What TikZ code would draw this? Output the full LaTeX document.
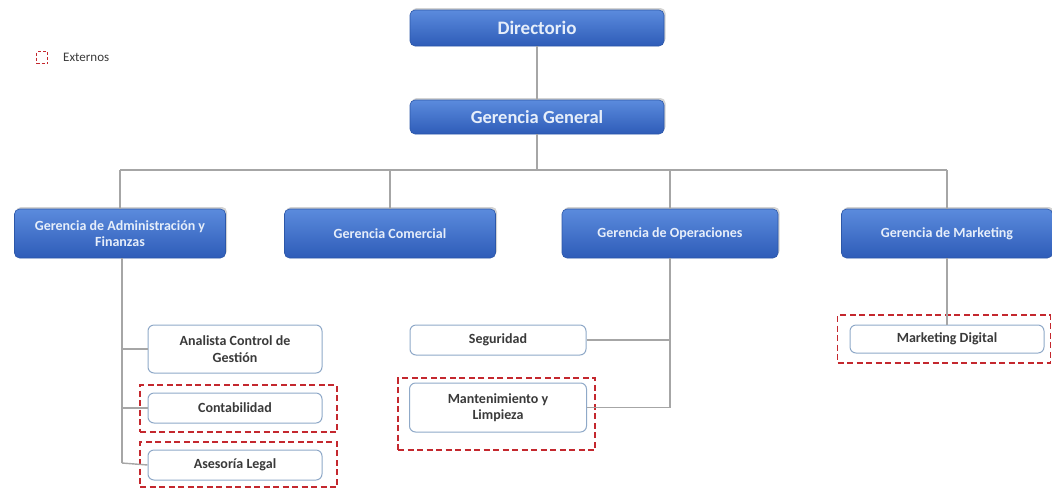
\documentclass[tikz,border=0pt]{standalone}
\usepackage{fontspec}
\setmainfont{Carlito}
\usetikzlibrary{shadows}
\definecolor{btop}{HTML}{5B8BDD}
\definecolor{bbot}{HTML}{2E5CB8}
\definecolor{bdraw}{HTML}{2C57A8}
\definecolor{wtxt}{HTML}{E6EEFA}
\definecolor{lborder}{HTML}{8FA9C8}
\definecolor{conn}{HTML}{A6A6A6}
\definecolor{extred}{HTML}{C4282E}
\definecolor{dtext}{HTML}{3A3A3A}
\tikzset{
  bluebox/.style={rectangle, rounded corners=5pt, top color=btop, bottom color=bbot,
    draw=bdraw, line width=0.6pt, text=wtxt, align=center, inner sep=2pt,
    drop shadow={opacity=0.35, shadow xshift=1.5pt, shadow yshift=2pt}},
  whitebox/.style={rectangle, rounded corners=6pt, fill=white, draw=lborder,
    line width=1pt, text=dtext, align=center, inner sep=2pt, font=\bfseries\fontsize{14}{16.5}\selectfont},
  extframe/.style={draw=extred, line width=1.6pt, dash pattern=on 6pt off 3.5pt},
  conline/.style={draw=conn, line width=1.4pt}
}
\begin{document}
\begin{tikzpicture}[x=1pt,y=-1pt]
\useasboundingbox (0,0) rectangle (1052,491);
% top boxes
\node[bluebox, minimum width=254pt, minimum height=36pt, font=\bfseries\fontsize{19}{22}\selectfont] (dir) at (537,28) {Directorio};
\node[bluebox, minimum width=254pt, minimum height=34pt, font=\bfseries\fontsize{18.5}{22}\selectfont] (gg) at (537,117) {Gerencia General};
% level 2
\tikzset{lvl2/.style={bluebox, minimum width=211pt, minimum height=49pt, font=\bfseries\fontsize{14}{16.5}\selectfont}}
\node[lvl2] (adm) at (120,233.5) {Gerencia de Administración y\\Finanzas};
\node[lvl2] (com) at (390,233.5) {Gerencia Comercial};
\node[lvl2, minimum width=216pt] (ope) at (670,233.5) {Gerencia de Operaciones};
\node[lvl2] (mkt) at (947,233.5) {Gerencia de Marketing};
% bus
\coordinate (bus) at (537,170);
\coordinate (busL) at (120,170);
\coordinate (busR) at (947,170);
% level 3 left
\node[whitebox, minimum width=174pt, minimum height=48pt] (ana) at (235,349) {Analista Control de\\Gestión};
\node[whitebox, minimum width=174pt, minimum height=30pt] (cont) at (235,408) {Contabilidad};
\node[whitebox, minimum width=174pt, minimum height=30pt] (ase) at (235,465) {Asesoría Legal};
% level 3 middle
\node[whitebox, minimum width=176pt, minimum height=30pt] (seg) at (498,340) {Seguridad};
\node[whitebox, minimum width=177pt, minimum height=49pt] (man) at (498,407.5) {Mantenimiento y\\Limpieza};
% level 3 right
\node[whitebox, minimum width=194pt, minimum height=28pt] (mdig) at (947,339) {Marketing Digital};
% external frames
\node[extframe, rectangle, minimum width=197pt, minimum height=47pt] (fcont) at (238.5,408.5) {};
\node[extframe, rectangle, minimum width=197pt, minimum height=45pt] (fase) at (238.5,464.5) {};
\node[extframe, rectangle, minimum width=197pt, minimum height=72pt] (fman) at (496.5,414) {};
\node[extframe, rectangle, minimum width=213pt, minimum height=48pt] (fmdig) at (944,339) {};
% legend
\node[extframe, rectangle, line width=1.3pt, dash pattern=on 3pt off 2pt, minimum width=11pt, minimum height=12pt, inner sep=0pt] (leg) at (42,57.5) {};
\node[anchor=west, text=dtext, font=\fontsize{13}{15}\selectfont, inner sep=0pt] (legt) at (63,57.5) {Externos};
% connectors
\coordinate (admB) at (122,463);
\coordinate (opeB) at (670,407.5);
\draw[conline] (dir) -- (gg);
\draw[conline] (gg.south) -- (bus);
\draw[conline] (busL) -- (busR);
\draw[conline] (busL) -- (adm.north);
\draw[conline] (390,170) -- (com.north);
\draw[conline] (670,170) -- (ope.north);
\draw[conline] (busR) -- (mkt.north);
\draw[conline] (adm.south -| admB) -- (admB);
\draw[conline] (ana.west -| admB) -- (ana.west);
\draw[conline] (cont.west -| admB) -- (cont.west);
\draw[conline] (admB) -- (ase.west);
\draw[conline] (ope.south) -- (opeB);
\draw[conline] (seg.east) -- (seg.east -| opeB);
\draw[conline] (man.east) -- (opeB);
\draw[conline] (mkt.south) -- (mdig.north);
\end{tikzpicture}
\end{document}
